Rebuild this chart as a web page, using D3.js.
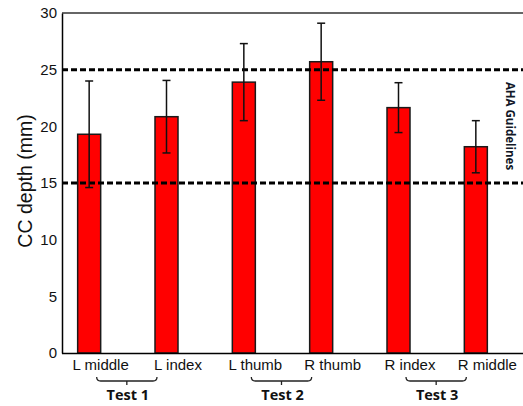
<!DOCTYPE html>
<html>
<head>
<meta charset="utf-8">
<script src="https://cdn.jsdelivr.net/npm/d3@7"></script>
<style>
  body { margin: 0; background: #fff; }
  svg { display: block; font-family: "Liberation Sans", Arial, sans-serif; }
</style>
</head>
<body>
<svg id="chart" width="523" height="406"></svg>
<script>
// data
const categories = ["L middle", "L index", "L thumb", "R thumb", "R index", "R middle"];
const means = [19.3, 20.85, 23.9, 25.7, 21.65, 18.2];
const sds = [4.7, 3.2, 3.4, 3.4, 2.2, 2.3];
const yTicks = [0, 5, 10, 15, 20, 25, 30];
const guidelines = [15, 25];
const tests = [
  {label: "Test 1", from: "L middle", to: "L index"},
  {label: "Test 2", from: "L thumb", to: "R thumb"},
  {label: "Test 3", from: "R index", to: "R middle"}
];

const svg = d3.select("#chart");
const margin = {left: 62, top: 13, bottom: 53};
const height = +svg.attr("height");
const plotRight = 526;
const barW = 23;

const x = d3.scaleBand()
  .domain(categories)
  .range([margin.left, plotRight])
  .padding(0);

const y = d3.scaleLinear()
  .domain([0, 30])
  .range([height - margin.bottom, margin.top]);

const rows = categories.map((c, i) => ({cat: c, mean: means[i], sd: sds[i]}));
const barX = d => x(d.cat) + x.bandwidth() / 2 - barW;

// top frame line
svg.append("line")
  .attr("x1", margin.left).attr("x2", 523)
  .attr("y1", y(30)).attr("y2", y(30))
  .attr("stroke", "#333").attr("stroke-width", 1.5);

// bars
svg.append("g")
  .selectAll("rect")
  .data(rows)
  .enter().append("rect")
  .attr("x", barX)
  .attr("y", d => y(d.mean))
  .attr("width", barW)
  .attr("height", d => y(0) - y(d.mean))
  .attr("fill", "#ff0000")
  .attr("stroke", "#1a1a1a")
  .attr("stroke-width", 1.5);

// guideline dashes
svg.append("g")
  .selectAll("line")
  .data(guidelines)
  .enter().append("line")
  .attr("x1", margin.left).attr("x2", 523)
  .attr("y1", d => y(d)).attr("y2", d => y(d))
  .attr("stroke", "#000")
  .attr("stroke-width", 3)
  .attr("stroke-dasharray", "6,3");

// error bars
const err = svg.append("g")
  .attr("stroke", "#111")
  .attr("stroke-width", 1.5)
  .selectAll("g")
  .data(rows)
  .enter().append("g");

err.append("line")
  .attr("x1", d => barX(d) + barW / 2).attr("x2", d => barX(d) + barW / 2)
  .attr("y1", d => y(d.mean + d.sd)).attr("y2", d => y(d.mean - d.sd));
err.selectAll(".cap")
  .data(d => [d.mean + d.sd, d.mean - d.sd].map(v => ({d, v})))
  .enter().append("line")
  .attr("class", "cap")
  .attr("x1", e => barX(e.d) + barW / 2 - 4).attr("x2", e => barX(e.d) + barW / 2 + 4)
  .attr("y1", e => y(e.v)).attr("y2", e => y(e.v));

// y axis
const yAxis = svg.append("g")
  .attr("transform", `translate(${margin.left},0)`)
  .call(d3.axisLeft(y).tickValues(yTicks).tickSize(0).tickPadding(5));
yAxis.select(".domain").attr("stroke", "#000").attr("stroke-width", 1.5);
yAxis.selectAll("text")
  .attr("font-size", 15)
  .attr("font-family", "Liberation Sans, Arial, sans-serif")
  .attr("fill", "#111");

// x axis
const xAxis = svg.append("g")
  .attr("transform", `translate(0,${y(0)})`)
  .call(d3.axisBottom(x).tickSize(0).tickPadding(6));
xAxis.select(".domain")
  .attr("d", `M${margin.left},0.5H523`)
  .attr("stroke", "#000").attr("stroke-width", 1.5);
xAxis.selectAll("text")
  .attr("font-size", 15)
  .attr("font-family", "Liberation Sans, Arial, sans-serif")
  .attr("fill", "#111");

// y title
svg.append("text")
  .attr("transform", `translate(32,181) rotate(-90)`)
  .attr("text-anchor", "middle")
  .attr("font-size", 19.5)
  .attr("fill", "#111")
  .text("CC depth (mm)");

// guideline label
svg.append("text")
  .attr("transform", `translate(506,126) rotate(90)`)
  .attr("text-anchor", "middle")
  .attr("font-family", "Open Sans, sans-serif")
  .attr("font-weight", "bold")
  .attr("font-size", 11.5)
  .attr("fill", "#111827")
  .text("AHA Guidelines");

// test brackets
const brTop = 377, brMid = 381, brBot = 385;
const br = svg.append("g")
  .selectAll("g")
  .data(tests)
  .enter().append("g");

br.append("path")
  .attr("d", t => {
    const x0 = x(t.from) + x.bandwidth() / 2 - 4;
    const x1 = x(t.to) + x.bandwidth() / 2 - barW + 2;
    const xm = (x0 + x1) / 2;
    return `M${x0},${brTop}Q${x0},${brMid} ${x0 + 4},${brMid}H${x1 - 4}Q${x1},${brMid} ${x1},${brTop}` +
      `M${xm},${brMid}V${brBot}`;
  })
  .attr("fill", "none")
  .attr("stroke", "#222")
  .attr("stroke-width", 1.3);

br.append("text")
  .attr("x", t => (x(t.from) + x.bandwidth() / 2 - 4 + x(t.to) + x.bandwidth() / 2 - barW + 2) / 2 + 1)
  .attr("y", 400)
  .attr("text-anchor", "middle")
  .attr("font-family", "Open Sans, sans-serif")
  .attr("font-weight", "bold")
  .attr("font-size", 14.5)
  .attr("fill", "#111")
  .text(t => t.label);
</script>
</body>
</html>
